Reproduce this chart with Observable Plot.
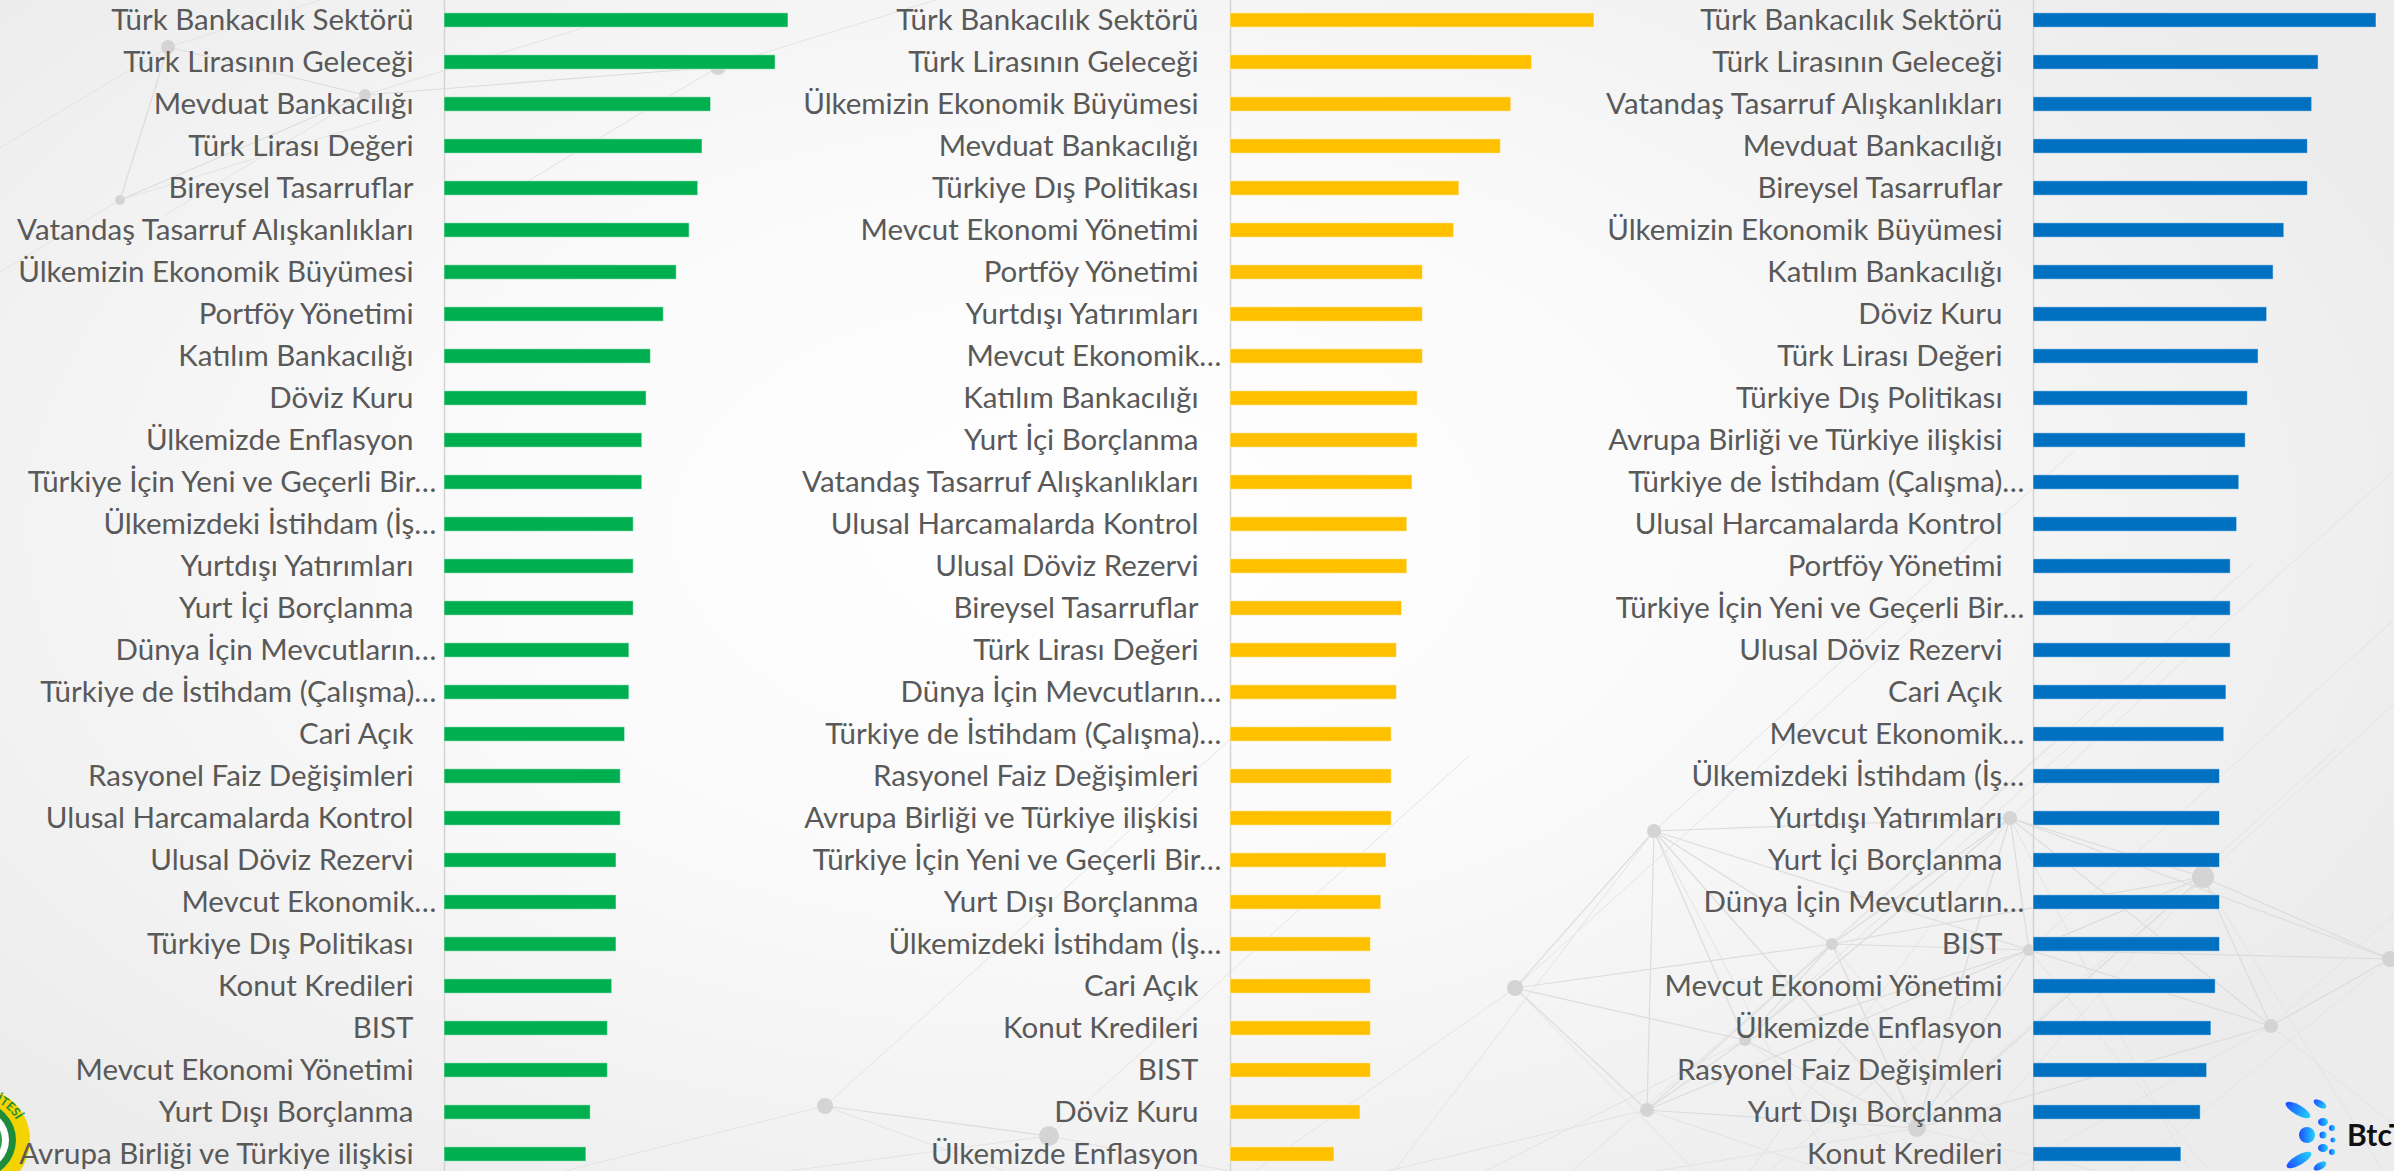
<!DOCTYPE html>
<html>
<head>
<meta charset="utf-8">
<script src="https://cdn.jsdelivr.net/npm/d3@7"></script>
<script src="https://cdn.jsdelivr.net/npm/@observablehq/plot@0.6"></script>
<style>
  html, body { margin: 0; padding: 0; }
  body {
    width: 2394px; height: 1171px; overflow: hidden; position: relative;
    background: radial-gradient(ellipse 60% 70% at 45% 45%, #ffffff 0%, #fafafa 45%, #ececec 100%);
    font-family: Lato, "Open Sans", sans-serif;
  }
  #bg, #logos { position: absolute; left: 0; top: 0; }
  #row { position: absolute; left: 0; top: 0; display: flex; width: 2394px; height: 1171px; }
  #row > svg, #row > figure { flex: none; }
</style>
</head>
<body>
<svg id="bg" width="2394" height="1171"></svg>
<svg id="logos" width="2394" height="1171"></svg>
<div id="row"></div>
<script>
// ---- Data ----
const labels1 = [
  "Türk Bankacılık Sektörü", "Türk Lirasının Geleceği", "Mevduat Bankacılığı", "Türk Lirası Değeri",
  "Bireysel Tasarruflar", "Vatandaş Tasarruf Alışkanlıkları", "Ülkemizin Ekonomik Büyümesi", "Portföy Yönetimi",
  "Katılım Bankacılığı", "Döviz Kuru", "Ülkemizde Enflasyon", "Türkiye İçin Yeni ve Geçerli Bir…",
  "Ülkemizdeki İstihdam (İş…", "Yurtdışı Yatırımları", "Yurt İçi Borçlanma", "Dünya İçin Mevcutların…",
  "Türkiye de İstihdam (Çalışma)…", "Cari Açık", "Rasyonel Faiz Değişimleri", "Ulusal Harcamalarda Kontrol",
  "Ulusal Döviz Rezervi", "Mevcut Ekonomik…", "Türkiye Dış Politikası", "Konut Kredileri",
  "BIST", "Mevcut Ekonomi Yönetimi", "Yurt Dışı Borçlanma", "Avrupa Birliği ve Türkiye ilişkisi"
];
const values1 = [80, 77, 62, 60, 59, 57, 54, 51, 48, 47, 46, 46, 44, 44, 44, 43, 43, 42, 41, 41, 40, 40, 40, 39, 38, 38, 34, 33];

const labels2 = [
  "Türk Bankacılık Sektörü", "Türk Lirasının Geleceği", "Ülkemizin Ekonomik Büyümesi", "Mevduat Bankacılığı",
  "Türkiye Dış Politikası", "Mevcut Ekonomi Yönetimi", "Portföy Yönetimi", "Yurtdışı Yatırımları",
  "Mevcut Ekonomik…", "Katılım Bankacılığı", "Yurt İçi Borçlanma", "Vatandaş Tasarruf Alışkanlıkları",
  "Ulusal Harcamalarda Kontrol", "Ulusal Döviz Rezervi", "Bireysel Tasarruflar", "Türk Lirası Değeri",
  "Dünya İçin Mevcutların…", "Türkiye de İstihdam (Çalışma)…", "Rasyonel Faiz Değişimleri", "Avrupa Birliği ve Türkiye ilişkisi",
  "Türkiye İçin Yeni ve Geçerli Bir…", "Yurt Dışı Borçlanma", "Ülkemizdeki İstihdam (İş…", "Cari Açık",
  "Konut Kredileri", "BIST", "Döviz Kuru", "Ülkemizde Enflasyon"
];
const values2 = [70, 58, 54, 52, 44, 43, 37, 37, 37, 36, 36, 35, 34, 34, 33, 32, 32, 31, 31, 31, 30, 29, 27, 27, 27, 27, 25, 20];

const labels3 = [
  "Türk Bankacılık Sektörü", "Türk Lirasının Geleceği", "Vatandaş Tasarruf Alışkanlıkları", "Mevduat Bankacılığı",
  "Bireysel Tasarruflar", "Ülkemizin Ekonomik Büyümesi", "Katılım Bankacılığı", "Döviz Kuru",
  "Türk Lirası Değeri", "Türkiye Dış Politikası", "Avrupa Birliği ve Türkiye ilişkisi", "Türkiye de İstihdam (Çalışma)…",
  "Ulusal Harcamalarda Kontrol", "Portföy Yönetimi", "Türkiye İçin Yeni ve Geçerli Bir…", "Ulusal Döviz Rezervi",
  "Cari Açık", "Mevcut Ekonomik…", "Ülkemizdeki İstihdam (İş…", "Yurtdışı Yatırımları",
  "Yurt İçi Borçlanma", "Dünya İçin Mevcutların…", "BIST", "Mevcut Ekonomi Yönetimi",
  "Ülkemizde Enflasyon", "Rasyonel Faiz Değişimleri", "Yurt Dışı Borçlanma", "Konut Kredileri"
];
const values3 = [80, 66.5, 65, 64, 64, 58.5, 56, 54.5, 52.5, 50, 49.5, 48, 47.5, 46, 46, 46, 45, 44.5, 43.5, 43.5, 43.5, 43.5, 43.5, 42.5, 41.5, 40.5, 39, 34.5];

// ---- Panel layout / style options ----
const panels = [
  {labels: labels1, values: values1, color: "#00B050", axis: 444, max: 80, px: 344, gap: 31, gapT: 8},
  {labels: labels2, values: values2, color: "#FFC000", axis: 432, max: 70, px: 364, gap: 32, gapT: 9},
  {labels: labels3, values: values3, color: "#0070C0", axis: 437, max: 80, px: 343, gap: 31, gapT: 9}
];
const W = 798, H = 1171;
const textColor = "#595959";
const fontSize = 29.5;

function panel(cfg) {
  const data = cfg.labels.map((label, i) => ({label, value: cfg.values[i]}));
  const isTrunc = d => d.label.endsWith("…");
  return Plot.plot({
    width: W, height: H, margin: 0,
    style: {background: "transparent", overflow: "visible", fontFamily: "Lato, 'Open Sans', sans-serif", maxWidth: "none"},
    x: {domain: [0, cfg.max], range: [cfg.axis, cfg.axis + cfg.px], axis: null},
    y: {domain: cfg.labels, range: [-2.2, 1176], padding: 0, axis: null},
    marks: [
      Plot.ruleX([0], {stroke: "#d4d4d4", strokeWidth: 1.5}),
      Plot.barX(data, {x: "value", y: "label", fill: cfg.color, insetTop: 13.8, insetBottom: 13.8, stroke: "#ffffff", strokeOpacity: 0.5, strokeWidth: 1}),
      Plot.text(data.filter(d => !isTrunc(d)), {x: 0, y: "label", text: "label", textAnchor: "end", dx: -cfg.gap, fill: textColor, fontSize}),
      Plot.text(data.filter(isTrunc), {x: 0, y: "label", text: "label", textAnchor: "end", dx: -cfg.gapT, fill: textColor, fontSize})
    ]
  });
}

const row = document.getElementById("row");
panels.forEach(cfg => row.appendChild(panel(cfg)));

// ---- Decorative background network ----
const bg = d3.select("#bg");
const nodes = [
  [168, 47, 7], [365, 95, 6], [718, 67, 8], [120, 200, 5],
  [825, 1106, 8], [1049, 1136, 10], [1515, 988, 8], [1654, 831, 7],
  [1832, 944, 6], [2010, 818, 7], [2203, 877, 11], [2271, 1026, 7],
  [2390, 959, 8], [1647, 1110, 7], [1917, 1128, 9], [1745, 1040, 6], [2029, 950, 6]
];
const links = [];
nodes.forEach((a, i) => nodes.forEach((b, j) => {
  if (j > i && Math.hypot(a[0] - b[0], a[1] - b[1]) < 420) links.push([a, b]);
}));
bg.selectAll("line.l").data(links).join("line")
  .attr("x1", d => d[0][0]).attr("y1", d => d[0][1])
  .attr("x2", d => d[1][0]).attr("y2", d => d[1][1])
  .attr("stroke", "#dcdcdc").attr("stroke-width", 1.2);
const rays = [];
nodes.filter(n => n[1] > 300).forEach(n => {
  [[n[0] - 260, 1171], [n[0] + 180, 1171], [n[0] + 420, n[1] - 380]].forEach(p => rays.push([n, p]));
});
nodes.filter(n => n[1] <= 300).forEach(n => {
  [[n[0] - 200, n[1] + 120], [n[0] + 260, n[1] - 80]].forEach(p => rays.push([n, p]));
});
bg.selectAll("line.r").data(rays).join("line")
  .attr("x1", d => d[0][0]).attr("y1", d => d[0][1])
  .attr("x2", d => d[1][0]).attr("y2", d => d[1][1])
  .attr("stroke", "#e3e3e3").attr("stroke-width", 1);
bg.selectAll("circle").data(nodes).join("circle")
  .attr("cx", d => d[0]).attr("cy", d => d[1]).attr("r", d => d[2])
  .attr("fill", "#d4d4d4");

// ---- Logos ----
const lg = d3.select("#logos");
const defs = lg.append("defs");
// university seal (bottom-left)
const seal = lg.append("g").attr("transform", "translate(-22,1140)");
seal.append("circle").attr("r", 52).attr("fill", "#f3d400");
seal.append("circle").attr("r", 38).attr("fill", "#1e8c3a");
seal.append("circle").attr("r", 31).attr("fill", "#ffffff");
seal.append("circle").attr("r", 24).attr("fill", "#2a9a45");
defs.append("path").attr("id", "sealArc").attr("d", "M -30 -31 A 44 44 0 0 1 43 9");
seal.append("text").attr("font-size", 12).attr("font-weight", "bold").attr("fill", "#1e8c3a")
  .attr("font-family", "Lato, sans-serif")
  .append("textPath").attr("href", "#sealArc").text("ÜNİVERSİTESİ");

// BtcTurk (bottom-right)
const bt = lg.append("g");
const grad = defs.append("linearGradient").attr("id", "btg").attr("x1", "0").attr("x2", "1");
grad.append("stop").attr("offset", "0").attr("stop-color", "#1b4dff");
grad.append("stop").attr("offset", "1").attr("stop-color", "#22d3ff");
const dots = [
  [2298, 1110, 14, 5, 30], [2320, 1104, 7, 3.5, 30], [2323, 1122, 5, 4, 0], [2332, 1128, 3, 3, 0],
  [2307, 1135, 8, 8, 0], [2323, 1135, 3.5, 3.5, 0], [2333, 1140, 2.5, 2.5, 0],
  [2323, 1148, 5, 4, 0], [2332, 1152, 3, 3, 0], [2299, 1160, 14, 5, -30], [2320, 1166, 7, 3.5, -30]
];
bt.selectAll("ellipse").data(dots).join("ellipse")
  .attr("cx", d => d[0]).attr("cy", d => d[1]).attr("rx", d => d[2]).attr("ry", d => d[3])
  .attr("transform", d => `rotate(${d[4]},${d[0]},${d[1]})`)
  .attr("fill", "url(#btg)");
bt.append("text").attr("x", 2347).attr("y", 1146).attr("font-size", 30).attr("font-weight", "bold")
  .attr("font-family", "Lato, sans-serif").attr("fill", "#111").text("BtcTurk");
</script>
</body>
</html>
